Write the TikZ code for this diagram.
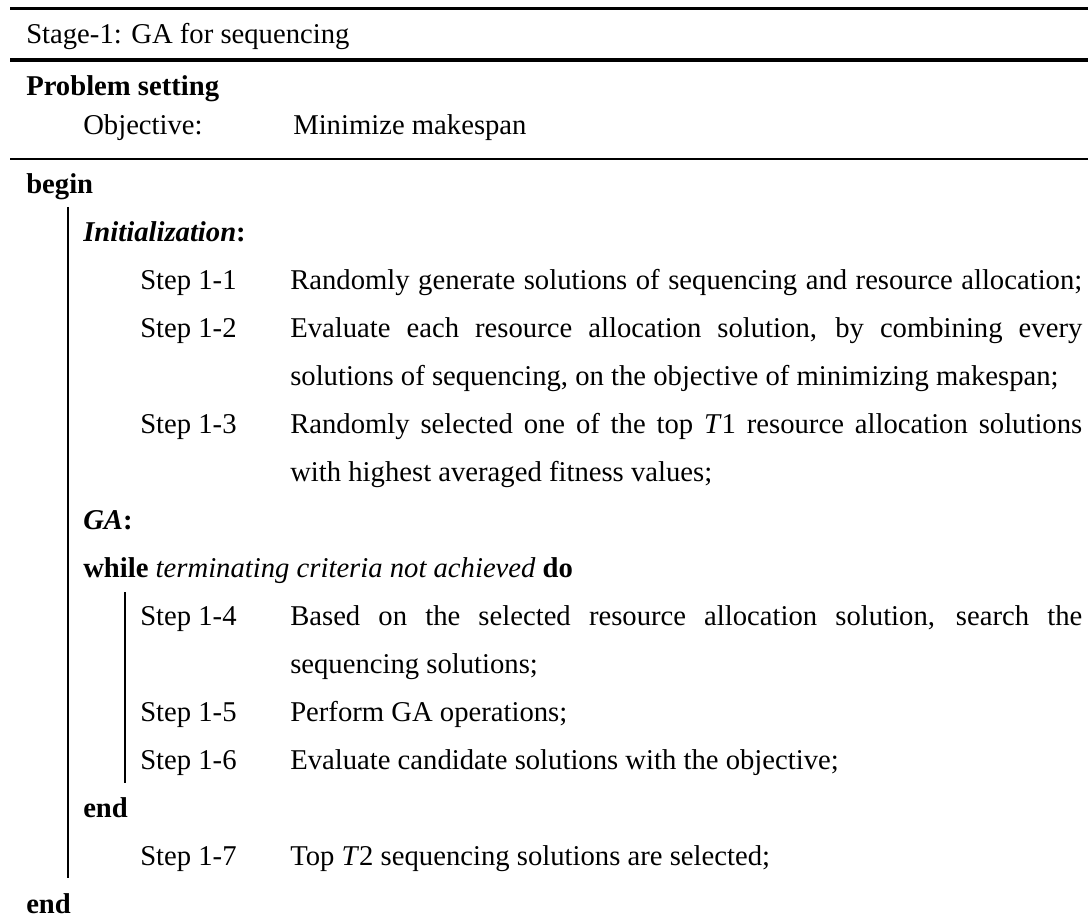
\documentclass[tikz,border=0pt]{standalone}
\usepackage{fontspec}
\setmainfont{Liberation Serif}
% full justified line inside the text column
\newcommand{\fullline}[1]{\makebox[594pt][s]{#1}}
\begin{document}
\begin{tikzpicture}[x=0.75pt,y=-0.75pt,
  txt/.style={anchor=base west, inner sep=0pt, font=\fontsize{21.5}{26}\selectfont},
  rulethick/.style={line width=2.5pt},
  rulemid/.style={line width=3pt},
  rulethin/.style={line width=1.5pt},
  blockbar/.style={line width=1.9pt}]
\useasboundingbox (0,0) rectangle (1088,923);

% table rules
\draw[rulethick] (10,8.3) -- (1088,8.3);
\draw[rulemid] (10,60) -- (1088,60);
\draw[rulethin] (10,159) -- (1088,159);

% header
\node[txt] (title) at (26,43.3) {Stage-1: GA for sequencing};
\node[txt] (setting) at (26,95.5) {\textbf{Problem setting}};
\node[txt] (objlbl) at (83,135) {Objective:};
\node[txt] (objval) at (293,135) {Minimize makespan};

% algorithm body
\node[txt] (begin) at (26,193.7) {\textbf{begin}};
\node[txt] (init) at (83,241.7) {\textbf{\textit{Initialization}:}};

\node[txt] (s11) at (140,289.7) {Step 1-1};
\node[txt] (t11) at (290,289.7) {\fullline{Randomly generate solutions of sequencing and resource allocation;}};

\node[txt] (s12) at (140,337.7) {Step 1-2};
\node[txt] (t12a) at (290,337.7) {\fullline{Evaluate each resource allocation solution, by combining every}};
\node[txt] (t12b) at (290,385.7) {solutions of sequencing, on the objective of minimizing makespan;};

\node[txt] (s13) at (140,433.7) {Step 1-3};
\node[txt] (t13a) at (290,433.7) {\fullline{Randomly selected one of the top \textit{T}1 resource allocation solutions}};
\node[txt] (t13b) at (290,481.7) {with highest averaged fitness values;};

\node[txt] (ga) at (83,529.7) {\textbf{\textit{GA}:}};
\node[txt] (while) at (83,577.7) {\textbf{while} \textit{terminating criteria not achieved} \textbf{do}};

\node[txt] (s14) at (140,625.7) {Step 1-4};
\node[txt] (t14a) at (290,625.7) {\fullline{Based on the selected resource allocation solution, search the}};
\node[txt] (t14b) at (290,673.7) {sequencing solutions;};

\node[txt] (s15) at (140,721.7) {Step 1-5};
\node[txt] (t15) at (290,721.7) {Perform GA operations;};

\node[txt] (s16) at (140,769.7) {Step 1-6};
\node[txt] (t16) at (290,769.7) {Evaluate candidate solutions with the objective;};

\node[txt] (wend) at (83,817.7) {\textbf{end}};

\node[txt] (s17) at (140,865.7) {Step 1-7};
\node[txt] (t17) at (290,865.7) {Top \textit{T}2 sequencing solutions are selected;};

\node[txt] (end) at (26,913.7) {\textbf{end}};

% block bars
\coordinate (outertop) at (68,207);
\coordinate (outerbot) at (68,878);
\coordinate (innertop) at (125,592);
\coordinate (innerbot) at (125,783);
\draw[blockbar] (outertop) -- (outerbot);
\draw[blockbar] (innertop) -- (innerbot);
\end{tikzpicture}
\end{document}
